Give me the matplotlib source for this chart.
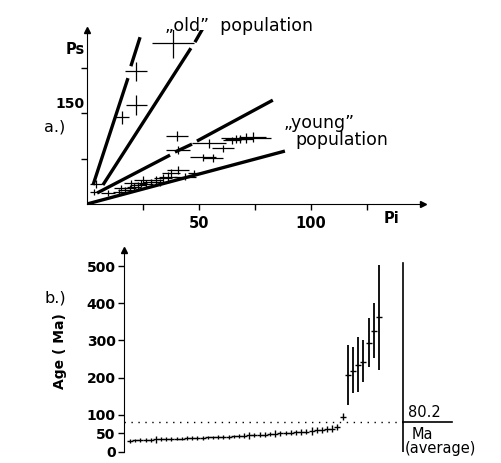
import matplotlib.pyplot as plt
import numpy as np

# --- a.) Ps vs Pi ---
pi = [38.4, 21.9, 21.9, 15.6, 4.0, 3.0,
      40.2, 40.6, 54.5, 51.8, 56.3, 60.7, 64.7, 66.5, 68.3, 71.0, 74.0,
      9.4, 14.5, 17.0, 19.0, 21.0, 23.0, 24.0, 26.3, 28.6, 31.0, 34.0, 36.0,
      37.5, 40.6, 43.7, 19.6, 15.0, 25.0, 32.6, 48.0]
pi_err = [9.2, 4.9, 4.7, 3.1, 2.5, 1.5,
          5.1, 5.5, 7.6, 5.6, 4.5, 5.0, 4.0, 5.0, 6.0, 11.0, 6.0,
          3.0, 3.0, 3.0, 3.0, 3.0, 3.5, 3.0, 3.0, 3.5, 3.0, 4.0, 4.0,
          4.0, 5.0, 5.0, 3.0, 3.0, 4.0, 4.0, 3.0]
ps = [265, 219, 163, 143, 33, 20,
      112, 89, 100, 77, 76, 92, 105, 107, 107, 109, 110,
      18, 20, 23, 26, 28, 31, 34, 33, 36, 40, 43, 45,
      51, 56, 45, 34, 26, 40, 36, 51]
ps_err = [25, 16, 16, 11, 6, 5,
          8, 7, 8, 6, 6, 6, 6, 7, 7, 8, 8,
          5, 5, 5, 6, 6, 6, 6, 6, 6, 7, 7, 7,
          7, 7, 6, 6, 5, 6, 6, 5]

# reference lines (segments, data units)
old1 = [([2.7, 18.3], [31.3, 207.6]), ([19.6, 23.7], [227.3, 275.1])]
old2 = [([7.1, 46.4], [31.3, 257.0]), ([48.2, 51.8], [266.9, 290.0])]
young1 = [([4.5, 37.1], [18.1, 80.7]), ([39.3, 46.9], [85.7, 98.8]),
          ([49.1, 83.0], [103.8, 171.3])]
young2 = [([0.0, 88.4], [0.0, 87.3])]

# --- b.) ages ---
age_low = [30, 31, 32, 32, 33, 34, 34, 35, 35, 36,
           36, 37, 37, 38, 38, 39, 39, 40, 40, 41,
           42, 43, 44, 45, 46, 47, 47, 48, 49, 50,
           51, 52, 53, 54, 55, 56, 58, 59, 61, 63, 67, 95]
err_low = [5, 5, 5, 5, 5, 10, 5, 5, 5, 5,
           5, 5, 5, 5, 5, 5, 5, 5, 5, 5,
           5, 5, 6, 10, 6, 6, 6, 6, 10, 6,
           6, 6, 7, 7, 7, 10, 8, 8, 8, 9, 9, 10]
age_high = [207, 218, 234, 242, 293, 325, 363]
high_lo = [126, 159, 161, 188, 228, 253, 220]
high_hi = [287, 282, 309, 301, 360, 400, 503]
average = 80.2

fig = plt.figure(figsize=(5.02, 4.63), dpi=100)

# top panel
ax1 = fig.add_axes([0.1733, 0.5594, 0.669, 0.3758])
ax1.errorbar(pi, ps, xerr=pi_err, yerr=ps_err, fmt='none', ecolor='black',
             elinewidth=0.9)
for segs in [old1, old2, young1, young2]:
    for xs, ys in segs:
        ax1.plot(xs, ys, color='black', lw=2.4, solid_capstyle='butt')
ax1.set_xlim(0, 150)
ax1.set_ylim(0, 287)
ax1.spines[['top', 'right']].set_visible(False)
ax1.set_xticks([25, 50, 75, 100, 125])
ax1.set_xticklabels(['', '50', '', '100', ''], fontweight='bold')
ax1.set_yticks([75, 150, 225])
ax1.set_yticklabels([])
ax1.tick_params(length=4, width=1, labelsize=10.5, pad=5)
ax1.text(-1, 153, '150', fontsize=10, fontweight='bold', ha='right', va='bottom')
ax1.plot(1, 0, '>', color='black', ms=4, transform=ax1.transAxes, clip_on=False)
ax1.plot(0, 1, '^', color='black', ms=4, transform=ax1.transAxes, clip_on=False)
ax1.text(136, -12, 'Pi', fontsize=10.5, fontweight='bold', ha='center', va='top')
ax1.text(-1, 255, 'Ps', fontsize=10.5, fontweight='bold', ha='right', va='center')
ax1.text(35, 293, '\u201eold\u201d  population', fontsize=12.5, va='center')
ax1.text(88, 134, '\u201eyoung\u201d', fontsize=12.5, va='center')
ax1.text(93, 105, 'population', fontsize=12.5, va='center')

fig.text(44 / 502, 1 - 127 / 463, 'a.)', fontsize=11.5, ha='left', va='center')
fig.text(44 / 502, 1 - 298 / 463, 'b.)', fontsize=11.5, ha='left', va='center')

# bottom panel
ax2 = fig.add_axes([0.247, 0.0238, 0.669, 0.436])
x_low = np.arange(len(age_low))
x_high = np.arange(len(age_low), len(age_low) + len(age_high))
ax2.errorbar(x_low, age_low, yerr=err_low, fmt='_', color='black', ms=4,
             mew=1, elinewidth=1)
age_high = np.array(age_high)
yerr_high = [age_high - np.array(high_lo), np.array(high_hi) - age_high]
ax2.errorbar(x_high, age_high, yerr=yerr_high, fmt='_', color='black', ms=5,
             mew=1, elinewidth=1.3)
xl = (-1.16, 63.6)
vline_x = 52.6
ax2.plot([xl[0], vline_x], [average, average], color='black', lw=1,
         linestyle=(0, (1, 4)))
ax2.plot([vline_x, vline_x], [0, 508], color='black', lw=1.2)
ax2.plot([vline_x, 62], [average, average], color='black', lw=1.2)
ax2.text(vline_x + 1, average + 6, '80.2', fontsize=10.5, va='bottom')
ax2.text(vline_x + 1.7, average - 12, 'Ma', fontsize=10.5, va='top')
ax2.text(vline_x + 0.4, average - 52, '(average)', fontsize=10.5, va='top')
ax2.set_xlim(*xl)
ax2.set_ylim(0, 543)
ax2.spines[['top', 'right', 'bottom']].set_visible(False)
ax2.set_xticks([])
ax2.set_yticks([0, 50, 100, 200, 300, 400, 500])
ax2.set_yticklabels(['0', '50', '100', '200', '300', '400', '500'],
                    fontweight='bold')
ax2.tick_params(length=4, width=1, labelsize=10, pad=2)
ax2.plot(0, 1, '^', color='black', ms=4, transform=ax2.transAxes, clip_on=False)
ax2.set_ylabel('Age ( Ma)', fontsize=10, fontweight='bold', labelpad=14)

fig.savefig('out.png', dpi=100)
